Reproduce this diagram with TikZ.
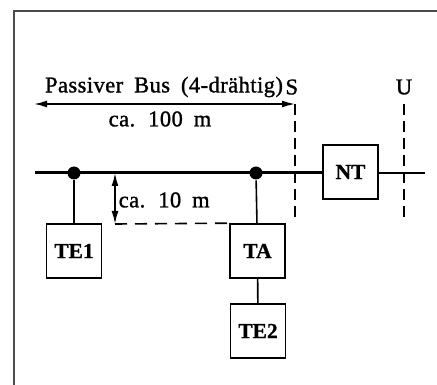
\documentclass[tikz,border=0pt]{standalone}
\usepackage{fontspec}
\setmainfont{Liberation Serif}
\newfontfamily\spacedfont[LetterSpace=2,WordSpace=1.8,FakeBold=1.2]{Liberation Serif}
\newfontfamily\boxfont[FakeBold=0.8]{Liberation Serif Bold}
\usetikzlibrary{arrows.meta, positioning}
\tikzset{
  box/.style={draw, minimum width=55pt, minimum height=54pt, inner sep=0pt,
    font=\fontsize{21.5}{25}\boxfont},
  tap/.style={circle, fill, inner sep=0pt, minimum size=13pt},
  lbl/.style={font=\fontsize{22.5}{26}\spacedfont, inner sep=0pt},
  border/.style={dash pattern=on 11pt off 6pt}
}

\begin{document}
\begin{tikzpicture}[x=1pt, y=-1pt, >={Latex[length=13pt,width=7pt]}, line width=1.6pt]
        \useasboundingbox (0,0) rectangle (437,385);
        % Frame
        \draw[gray!60!black] (14,385) -- (14,11) -- (437,11);

        % Nodes
        \node[box] (NT) at (350.5,172) {NT};
        \node[box] (TE1) at (74,251) {TE1};
        \node[box] (TA) at (257.5,251) {TA};
        \node[box] (TE2) at (258,331) {TE2};
        \node[tap] (d1) at (74,173) {};
        \node[tap] (d2) at (256,173) {};
        \coordinate (busL) at (35,173);
        \coordinate (busR) at (425,173);
        \coordinate (Stop) at (295,104);
        \coordinate (Sbot) at (295,223);
        \coordinate (Utop) at (404,104);
        \coordinate (Ubot) at (404,223);
        \coordinate (Lend) at (34,104);
        \coordinate (Mtop) at (115,173);
        \coordinate (Mbot) at (115,224);

        % Labels
        \node[lbl] (bus) at (164,87) {Passiver Bus (4-drähtig)};
        \node[lbl, anchor=west] (S) at ([xshift=1pt]bus.east) {S};
        \node[lbl] (U) at (404,87) {U};
        \node[lbl] (len) at (160,119) {ca. 100 m};
        \node[lbl, anchor=west] (dist) at (118,200) {ca. 10 m};

        % Bus and stubs
        \draw[line width=3pt] (busL) -- (busL -| NT.west);
        \draw[line width=1.1pt] (NT.east |- busR) -- (busR);
        \draw (d1) -- (TE1);
        \draw (d2) -- (TA);
        \draw (TA) -- (TE2);

        % Reference points S and U
        \draw[border] (Stop) -- (Sbot);
        \draw[border] (Utop) -- (Ubot);

        % Dimensions
        \draw[<->] (Lend) -- (Stop);
        \draw[<->] (Mtop) -- (Mbot);
        \draw[dash pattern=on 12pt off 8pt] (Mbot) -- (TA.north west);
    \end{tikzpicture}
\end{document}
